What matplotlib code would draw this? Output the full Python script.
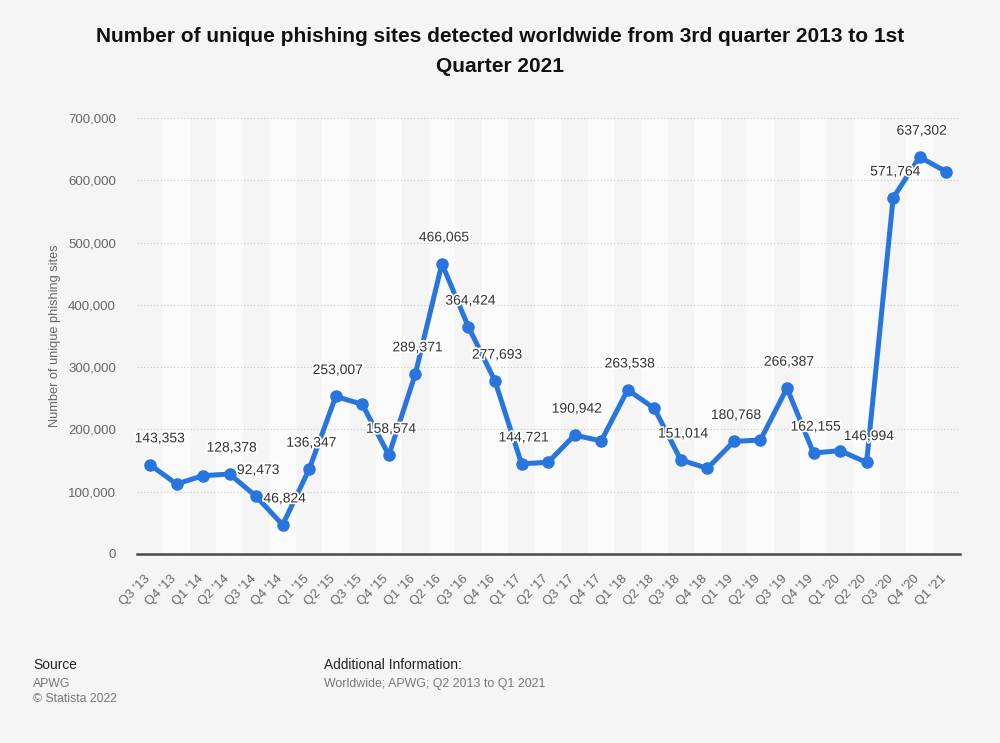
import matplotlib.pyplot as plt
import matplotlib.patheffects as pe
import matplotlib.transforms as mtransforms
import numpy as np
from matplotlib.ticker import FuncFormatter

plt.rcParams["font.family"] = ["Liberation Sans", "DejaVu Sans"]

quarters = [
    "Q3 '13", "Q4 '13",
    "Q1 '14", "Q2 '14", "Q3 '14", "Q4 '14",
    "Q1 '15", "Q2 '15", "Q3 '15", "Q4 '15",
    "Q1 '16", "Q2 '16", "Q3 '16", "Q4 '16",
    "Q1 '17", "Q2 '17", "Q3 '17", "Q4 '17",
    "Q1 '18", "Q2 '18", "Q3 '18", "Q4 '18",
    "Q1 '19", "Q2 '19", "Q3 '19", "Q4 '19",
    "Q1 '20", "Q2 '20", "Q3 '20", "Q4 '20",
    "Q1 '21",
]
sites = [
    143353, 112400,
    125700, 128378, 92473, 46824,
    136347, 253007, 240300, 158574,
    289371, 466065, 364424, 277693,
    144721, 147200, 190942, 181400,
    263538, 233900, 151014, 137500,
    180768, 183000, 266387, 162155,
    165900, 146994, 571764, 637302,
    613800,
]
# quarters whose value label is shown in the original chart
shown_labels = [
    1, 0,
    0, 1, 1, 1,
    1, 1, 0, 1,
    1, 1, 1, 1,
    1, 0, 1, 0,
    1, 0, 1, 0,
    1, 0, 1, 1,
    0, 1, 1, 1,
    0,
]

BG = "#f5f5f5"
BAND = "#fbfbfb"
LINE = "#2876dd"

fig = plt.figure(figsize=(10, 7.43), dpi=100, facecolor=BG)
W, H = 1000, 743
left, right, top, bottom = 136.7, 959.5, 118, 554
ax = fig.add_axes([left / W, 1 - bottom / H, (right - left) / W, (bottom - top) / H])
ax.set_facecolor(BG)

x = np.arange(len(quarters))
for i in x:
    if i % 2 == 1:
        ax.axvspan(i - 0.5, i + 0.5, color=BAND, zorder=0, lw=0)

ax.plot(x, sites, color=LINE, lw=3.6, marker="o", ms=8, zorder=3,
        solid_joinstyle="round")

for i, (v, show) in enumerate(zip(sites, shown_labels)):
    if show:
        # first label is pushed right so it stays inside the plot area
        dx = 7 if i == 0 else 1.5
        ax.annotate(f"{v:,}", (i, v), xytext=(dx, 19), textcoords="offset points",
                    ha="center", va="center", fontsize=10, color="#333333", zorder=4,
                    path_effects=[pe.withStroke(linewidth=2.5, foreground="white")])

ax.set_xlim(-0.5, len(quarters) - 0.5)
ax.set_ylim(0, 700000)
ax.set_yticks(np.arange(0, 700001, 100000))
ax.yaxis.set_major_formatter(FuncFormatter(lambda v, p: f"{int(v):,}"))
ax.grid(axis="y", color="#c8c8c8", ls=(0, (1, 2)), lw=0.8, zorder=1)
ax.set_axisbelow(True)

# category labels, rotated, ending just under each tick position
ax.set_xticks(x)
ax.set_xticklabels([])
ax.tick_params(axis="x", length=0)
lab_tr = ax.get_xaxis_transform() + mtransforms.ScaledTranslation(-2 / 100, -23 / 100, fig.dpi_scale_trans)
for i, q in zip(x, quarters):
    ax.text(i, 0, q, transform=lab_tr, rotation=45, ha="right", va="center",
            rotation_mode="anchor", fontsize=9.3, color="#666666", clip_on=False)
ax.tick_params(axis="y", length=0, pad=15, labelsize=9.5, labelcolor="#666666")

for s in ["top", "right", "left"]:
    ax.spines[s].set_visible(False)
ax.spines["bottom"].set_color("#4a4a4a")
ax.spines["bottom"].set_linewidth(1.8)
ax.spines["bottom"].set_zorder(5)

ax.set_ylabel("Number of unique phishing sites", fontsize=9.2, color="#666666", labelpad=5)

fig.text(0.5, 1 - 37 / H, "Number of unique phishing sites detected worldwide from 3rd quarter 2013 to 1st",
         ha="center", va="center", fontsize=15, fontweight="bold", color="#111111")
fig.text(0.5, 1 - 67 / H, "Quarter 2021",
         ha="center", va="center", fontsize=15, fontweight="bold", color="#111111")

fig.text(33 / W, 1 - 665 / H, "Source", ha="left", va="center", fontsize=9.9, color="#222222")
fig.text(33 / W, 1 - 684 / H, "APWG", ha="left", va="center", fontsize=8.8, color="#777777")
fig.text(33 / W, 1 - 699 / H, "\u00a9 Statista 2022", ha="left", va="center", fontsize=8.8, color="#777777")
fig.text(324 / W, 1 - 665 / H, "Additional Information:", ha="left", va="center", fontsize=9.9, color="#222222")
fig.text(324 / W, 1 - 684 / H, "Worldwide; APWG; Q2 2013 to Q1 2021", ha="left", va="center",
         fontsize=8.9, color="#777777")

fig.savefig("out.png", dpi=100, facecolor=BG)
